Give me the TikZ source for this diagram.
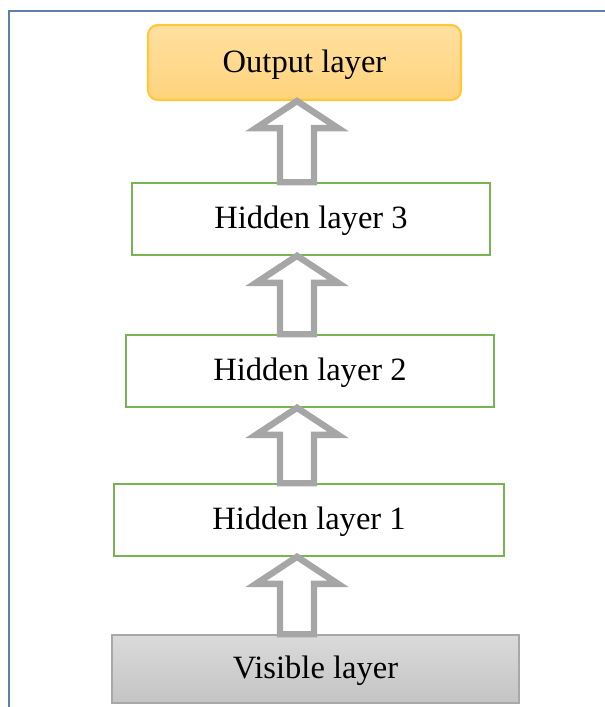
\documentclass[tikz,border=0pt]{standalone}
\usepackage{fontspec}
\setmainfont{Liberation Serif}
\usetikzlibrary{calc}
\definecolor{framecol}{HTML}{5F80A9}
\definecolor{outtop}{HTML}{FFE09F}
\definecolor{outbot}{HTML}{FFD37C}
\definecolor{outline}{HTML}{FFC73A}
\definecolor{hidgreen}{HTML}{78B552}
\definecolor{vistop}{HTML}{DADADA}
\definecolor{visbot}{HTML}{C4C4C4}
\definecolor{visline}{HTML}{A8A8A8}
\definecolor{arrowgray}{HTML}{A6A6A6}
\begin{document}
\begin{tikzpicture}[x=0.75pt,y=-0.75pt,
  layertext/.style={font=\fontsize{24.4pt}{28pt}\selectfont, text=black, inner sep=0pt,
    text height=14.3pt, text depth=0pt},
  outbox/.style={layertext, rectangle, rounded corners=7.5pt, draw=outline, line width=1.6pt,
    top color=outtop, bottom color=outbot},
  hidbox/.style={layertext, rectangle, draw=hidgreen, line width=1.2pt, fill=white},
  visbox/.style={layertext, rectangle, draw=visline, line width=1.2pt,
    top color=vistop, bottom color=visbot},
  blockarrow/.style={draw=arrowgray, line width=4.8pt, line join=miter},
  frameline/.style={draw=framecol, line width=2.2pt}]
\useasboundingbox (0,0) rectangle (605,707);

% page frame
\draw[frameline] (606,11) -- (9,11) -- (9,708);

% layers
\node[outbox, minimum width=234.75pt, minimum height=56.25pt] (out) at (304.5,62.5) {Output layer};
\node[hidbox, minimum width=268.5pt, minimum height=54pt] (h3) at (311,219) {Hidden layer 3};
\node[hidbox, minimum width=276pt, minimum height=54pt] (h2) at (310,371) {Hidden layer 2};
\node[hidbox, minimum width=292.5pt, minimum height=54pt] (h1) at (309,520) {Hidden layer 1};
\node[visbox, minimum width=305.25pt, minimum height=51pt] (vis) at (315.5,669) {Visible layer};

% column on which the block arrows stand
\coordinate (col) at (297,0);

% hollow block arrow from the top of #1 up to the bottom of #2
\newcommand\layerarrow[2]{%
  \coordinate (t) at (#2.south -| col);
  \coordinate (b) at (#1.north -| col);
  \draw[blockarrow] (t) -- ($(t)+(41,27)$) -- ($(t)+(17,27)$) -- ($(b)+(17,0)$)
    -- ($(b)+(-17,0)$) -- ($(t)+(-17,27)$) -- ($(t)+(-41,27)$) -- cycle;
}
\layerarrow{vis}{h1}
\layerarrow{h1}{h2}
\layerarrow{h2}{h3}
\layerarrow{h3}{out}
\end{tikzpicture}
\end{document}
